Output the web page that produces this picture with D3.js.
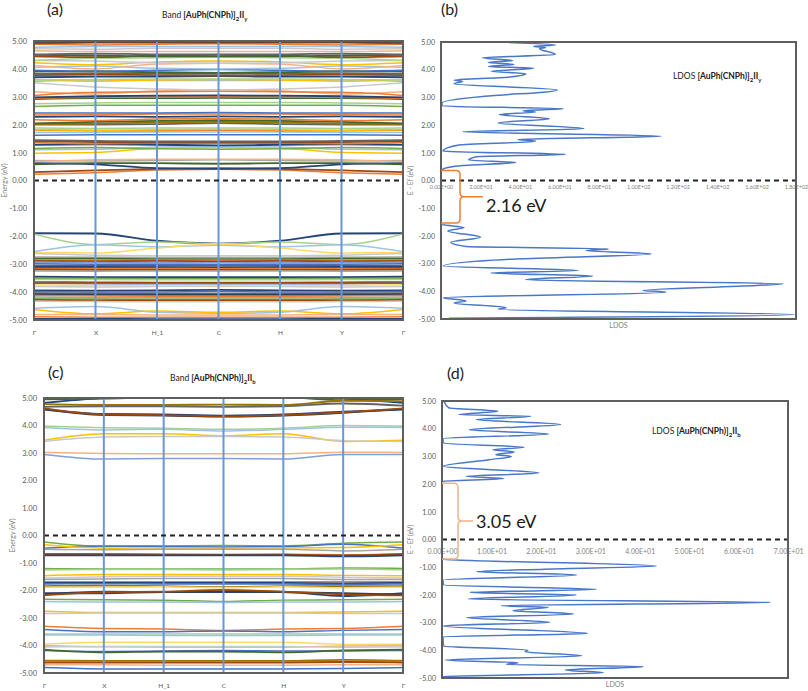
<!DOCTYPE html>
<html><head><meta charset="utf-8">
<script src="https://cdn.jsdelivr.net/npm/d3@7"></script>
<style>
body{margin:0;background:#fff}
svg{display:block}
text{font-family:Lato,"Open Sans",sans-serif}
</style>
</head><body>
<svg id="c" width="808" height="691"></svg>
<script>
// ---------------- DATA ----------------
const kLabels = ["Γ","X","H_1","C","H","Y","Γ"];
const yTicks = [5,4,3,2,1,0,-1,-2,-3,-4,-5];

// Panel (a) bands: energies at Γ, X, H_1, C, H, Y, Γ
const bandsA = [
 [0.22,0.28,0.38,0.40,0.38,0.28,0.22],
 [0.30,0.36,0.42,0.44,0.42,0.36,0.30],
 [0.62,0.58,0.44,0.42,0.44,0.58,0.62],
 [0.58,0.62,0.62,0.60,0.62,0.62,0.58],
 [0.72,0.70,0.72,0.74,0.72,0.70,0.72],
 [0.68,0.74,0.76,0.76,0.76,0.74,0.68],
 [0.98,1.00,1.16,1.18,1.16,1.00,0.98],
 [1.10,1.12,1.20,1.22,1.20,1.12,1.10],
 [1.15,1.18,1.14,1.12,1.14,1.18,1.15],
 [1.28,1.30,1.28,1.26,1.28,1.30,1.28],
 [1.35,1.32,1.34,1.34,1.34,1.32,1.35],
 [1.40,1.38,1.36,1.36,1.36,1.38,1.40],
 [1.45,1.42,1.40,1.40,1.40,1.42,1.45],
 [1.62,1.64,1.64,1.64,1.64,1.64,1.62],
 [1.72,1.72,1.74,1.74,1.74,1.72,1.72],
 [1.80,1.78,1.78,1.80,1.78,1.78,1.80],
 [1.82,1.80,1.82,1.84,1.82,1.80,1.82],
 [1.88,1.86,1.88,1.88,1.88,1.86,1.88],
 [2.00,2.00,2.02,2.06,2.02,2.00,2.00],
 [2.02,2.04,2.08,2.10,2.08,2.04,2.02],
 [2.05,2.10,2.14,2.16,2.14,2.10,2.05],
 [2.18,2.15,2.20,2.22,2.20,2.15,2.18],
 [2.28,2.30,2.28,2.30,2.28,2.30,2.28],
 [2.35,2.36,2.38,2.38,2.38,2.36,2.35],
 [2.42,2.42,2.42,2.44,2.42,2.42,2.42],
 [2.65,2.70,2.70,2.70,2.70,2.70,2.65],
 [2.75,2.78,2.80,2.80,2.80,2.78,2.75],
 [2.92,2.95,2.95,2.96,2.95,2.95,2.92],
 [2.95,2.98,3.00,3.00,3.00,2.98,2.95],
 [2.98,3.02,3.04,3.05,3.04,3.02,2.98],
 [3.18,3.10,3.22,3.25,3.22,3.10,3.18],
 [3.05,3.16,3.18,3.20,3.18,3.16,3.05],
 [3.50,3.35,3.28,3.25,3.28,3.35,3.50],
 [3.55,3.60,3.58,3.58,3.58,3.60,3.55],
 [3.62,3.56,3.60,3.62,3.60,3.56,3.62],
 [3.60,3.62,3.64,3.64,3.64,3.62,3.60],
 [3.70,3.72,3.72,3.74,3.72,3.72,3.70],
 [3.78,3.80,3.78,3.76,3.78,3.80,3.78],
 [3.82,3.85,3.84,3.82,3.84,3.85,3.82],
 [3.90,3.92,3.88,3.86,3.88,3.92,3.90],
 [3.95,3.92,3.95,3.98,3.95,3.92,3.95],
 [4.05,4.10,4.02,4.00,4.02,4.10,4.05],
 [4.12,4.00,4.18,4.20,4.18,4.00,4.12],
 [4.22,4.15,4.25,4.28,4.25,4.15,4.22],
 [4.30,4.28,4.22,4.20,4.22,4.28,4.30],
 [4.30,4.38,4.40,4.42,4.40,4.38,4.30],
 [4.45,4.42,4.48,4.50,4.48,4.42,4.45],
 [4.50,4.48,4.45,4.45,4.45,4.48,4.50],
 [4.52,4.55,4.52,4.52,4.52,4.55,4.52],
 [4.65,4.62,4.62,4.62,4.62,4.62,4.65],
 [4.72,4.70,4.74,4.74,4.74,4.70,4.72],
 [4.78,4.80,4.80,4.80,4.80,4.80,4.78],
 [4.88,4.86,4.88,4.90,4.88,4.86,4.88],
 [4.92,4.94,4.94,4.94,4.94,4.94,4.92],
 [4.97,4.98,4.98,4.98,4.98,4.98,4.97],
 [-1.89,-1.90,-2.16,-2.26,-2.16,-1.90,-1.89],
 [-1.92,-2.30,-2.20,-2.27,-2.20,-2.30,-1.92],
 [-2.55,-2.30,-2.38,-2.32,-2.38,-2.30,-2.55],
 [-2.58,-2.60,-2.42,-2.28,-2.42,-2.60,-2.58],
 [-2.62,-2.68,-2.70,-2.70,-2.70,-2.68,-2.62],
 [-2.74,-2.75,-2.76,-2.76,-2.76,-2.75,-2.74],
 [-2.80,-2.80,-2.82,-2.82,-2.82,-2.80,-2.80],
 [-2.85,-2.86,-2.85,-2.85,-2.85,-2.86,-2.85],
 [-2.88,-2.90,-2.88,-2.90,-2.88,-2.90,-2.88],
 [-2.93,-2.94,-2.95,-2.95,-2.95,-2.94,-2.93],
 [-2.98,-3.00,-3.00,-3.01,-3.00,-3.00,-2.98],
 [-3.05,-3.05,-3.06,-3.06,-3.06,-3.05,-3.05],
 [-3.10,-3.10,-3.11,-3.12,-3.11,-3.10,-3.10],
 [-3.15,-3.15,-3.15,-3.16,-3.15,-3.15,-3.15],
 [-3.19,-3.20,-3.20,-3.20,-3.20,-3.20,-3.19],
 [-3.24,-3.25,-3.24,-3.24,-3.24,-3.25,-3.24],
 [-3.45,-3.46,-3.46,-3.46,-3.46,-3.46,-3.45],
 [-3.50,-3.51,-3.52,-3.52,-3.52,-3.51,-3.50],
 [-3.55,-3.55,-3.56,-3.56,-3.56,-3.55,-3.55],
 [-3.64,-3.65,-3.66,-3.66,-3.66,-3.65,-3.64],
 [-3.68,-3.70,-3.70,-3.70,-3.70,-3.70,-3.68],
 [-3.74,-3.76,-3.78,-3.80,-3.78,-3.76,-3.74],
 [-3.80,-3.82,-3.80,-3.78,-3.80,-3.82,-3.80],
 [-3.94,-3.95,-3.94,-3.92,-3.94,-3.95,-3.94],
 [-3.98,-4.00,-4.00,-3.98,-4.00,-4.00,-3.98],
 [-4.04,-4.05,-4.06,-4.06,-4.06,-4.05,-4.04],
 [-4.08,-4.10,-4.10,-4.10,-4.10,-4.10,-4.08],
 [-4.12,-4.14,-4.15,-4.15,-4.15,-4.14,-4.12],
 [-4.18,-4.20,-4.20,-4.20,-4.20,-4.20,-4.18],
 [-4.24,-4.25,-4.26,-4.26,-4.26,-4.25,-4.24],
 [-4.28,-4.30,-4.30,-4.30,-4.30,-4.30,-4.28],
 [-4.33,-4.34,-4.35,-4.35,-4.35,-4.34,-4.33],
 [-4.58,-4.52,-4.72,-4.76,-4.72,-4.52,-4.58],
 [-4.62,-4.78,-4.68,-4.72,-4.68,-4.78,-4.62],
 [-4.80,-4.80,-4.82,-4.82,-4.82,-4.80,-4.80],
 [-4.88,-4.90,-4.90,-4.90,-4.90,-4.90,-4.88],
 [-4.96,-4.96,-4.97,-4.97,-4.97,-4.96,-4.96]
];
const colorsA = [1,7,6,11,2,13,3,16,5,6,1,7,8,0,16,1,3,17,8,9,11,1,6,1,0,5,17,11,1,6,13,1,14,16,3,17,6,7,8,11,0,16,13,3,14,17,7,11,8,13,14,16,1,7,18,
 6,17,16,15,14,2,11,1,7,12,0,8,6,1,7,2,6,5,17,7,0,15,14,6,0,8,18,1,2,5,7,14,16,3,13,1,6];

// Panel (c) bands
const bandsC = [
 [4.82,5.00,5.05,5.05,5.05,4.98,4.82],
 [4.95,4.98,5.02,5.02,5.02,4.92,4.95],
 [4.58,4.42,4.40,4.36,4.40,4.50,4.58],
 [4.78,4.75,4.75,4.76,4.75,4.90,4.88],
 [4.68,4.70,4.70,4.68,4.70,4.80,4.72],
 [4.60,4.38,4.36,4.32,4.36,4.46,4.60],
 [4.62,4.40,4.38,4.33,4.38,4.48,4.62],
 [3.98,3.92,3.90,3.86,3.90,4.00,3.98],
 [3.93,3.84,3.86,3.80,3.86,3.94,3.93],
 [3.46,3.70,3.70,3.62,3.70,3.42,3.46],
 [3.42,3.58,3.60,3.60,3.58,3.45,3.42],
 [3.02,2.98,2.97,2.97,2.97,3.03,3.02],
 [2.95,2.78,2.80,2.80,2.78,2.95,2.95],
 [-0.24,-0.40,-0.38,-0.36,-0.38,-0.28,-0.24],
 [-0.46,-0.38,-0.40,-0.42,-0.40,-0.32,-0.46],
 [-0.34,-0.46,-0.45,-0.46,-0.45,-0.44,-0.34],
 [-0.50,-0.52,-0.50,-0.50,-0.50,-0.56,-0.50],
 [-0.66,-0.67,-0.68,-0.70,-0.68,-0.70,-0.66],
 [-0.68,-0.68,-0.70,-0.70,-0.70,-0.72,-0.68],
 [-0.72,-0.72,-0.72,-0.72,-0.72,-0.76,-0.72],
 [-1.20,-1.22,-1.22,-1.22,-1.22,-1.18,-1.20],
 [-1.25,-1.24,-1.24,-1.25,-1.24,-1.22,-1.25],
 [-1.46,-1.42,-1.42,-1.42,-1.42,-1.45,-1.46],
 [-1.55,-1.50,-1.48,-1.48,-1.48,-1.52,-1.55],
 [-1.60,-1.58,-1.56,-1.56,-1.56,-1.60,-1.60],
 [-1.68,-1.68,-1.68,-1.68,-1.68,-1.68,-1.68],
 [-1.72,-1.72,-1.72,-1.72,-1.72,-1.74,-1.72],
 [-1.76,-1.75,-1.76,-1.76,-1.76,-1.78,-1.76],
 [-1.84,-1.82,-1.84,-1.88,-1.84,-1.84,-1.84],
 [-1.88,-1.88,-1.86,-1.90,-1.86,-1.90,-1.88],
 [-2.10,-2.10,-2.06,-2.06,-2.06,-2.20,-2.10],
 [-2.14,-2.04,-2.06,-2.02,-2.06,-2.10,-2.14],
 [-2.18,-2.06,-2.04,-1.98,-2.04,-2.14,-2.18],
 [-2.32,-2.34,-2.35,-2.40,-2.35,-2.34,-2.32],
 [-2.40,-2.42,-2.42,-2.44,-2.42,-2.42,-2.40],
 [-2.75,-2.80,-2.80,-2.80,-2.80,-2.78,-2.75],
 [-2.84,-2.82,-2.82,-2.82,-2.82,-2.84,-2.84],
 [-3.30,-3.38,-3.40,-3.45,-3.40,-3.38,-3.30],
 [-3.42,-3.50,-3.50,-3.47,-3.50,-3.45,-3.42],
 [-3.58,-3.58,-3.58,-3.58,-3.58,-3.58,-3.58],
 [-3.62,-3.62,-3.64,-3.64,-3.64,-3.62,-3.62],
 [-3.95,-3.88,-3.88,-3.88,-3.88,-3.96,-3.95],
 [-4.00,-4.05,-4.06,-4.06,-4.06,-4.02,-4.00],
 [-4.05,-4.04,-4.04,-4.04,-4.04,-4.06,-4.05],
 [-4.18,-4.22,-4.20,-4.18,-4.20,-4.20,-4.18],
 [-4.15,-4.25,-4.22,-4.22,-4.25,-4.18,-4.15],
 [-4.55,-4.56,-4.56,-4.56,-4.56,-4.52,-4.55],
 [-4.58,-4.60,-4.60,-4.60,-4.60,-4.58,-4.58],
 [-4.62,-4.62,-4.62,-4.62,-4.62,-4.60,-4.62],
 [-4.70,-4.70,-4.72,-4.72,-4.72,-4.70,-4.70],
 [-4.80,-4.85,-4.85,-4.85,-4.85,-4.84,-4.80]
];
const colorsC = [6,11,6,9,8,18,7,17,16,3,14,13,12,
 5,0,3,2,1,7,6,5,17,3,14,2,1,6,0,9,15,6,18,7,5,16,3,14,1,0,17,16,15,13,14,0,11,9,1,7,13,0];

// Panel (b) LDOS: [energy (eV), LDOS]
const ldosB = [
 [4.98,34.5],[4.89,58],[4.84,47],[4.80,53],[4.76,50],[4.55,58],[4.43,21],[4.33,36.5],[4.26,24],[4.19,37],
 [4.12,24],[4.05,47],[3.94,25.5],[3.85,43],[3.73,34],[3.63,6.6],[3.58,11],[3.49,6.6],[3.27,59],[3.19,52],
 [3.08,29],[2.80,0.5],[2.69,0.5],[2.59,62],[2.52,41.5],[2.47,48],[2.38,29.5],[2.23,55],[2.08,29],[1.87,72.5],
 [1.76,11],[1.60,111.5],[1.48,39],[1.42,48],[1.28,9],[1.06,1],[0.94,63],[0.86,18],[0.74,14],[0.65,38],
 [0.54,11],[0.41,1],[0.30,0],[-1.50,0],[-1.58,0],[-1.70,11.7],[-1.82,3.5],[-2.05,20],[-2.23,5],[-2.38,12.7],
 [-2.47,85],[-2.53,73.5],[-2.65,106.5],[-2.83,38],[-3.09,1],[-3.25,69.5],[-3.34,25.4],[-3.45,77],[-3.58,43],
 [-3.73,173.5],[-3.79,160],[-3.97,102.5],[-4.03,114],[-4.23,1],[-4.35,12.7],[-4.42,6.6],[-4.59,33],[-4.65,29],
 [-4.84,179],[-4.97,4]
];
const ticksB = [0,20,40,60,80,100,120,140,160,180];
const tickLabelsB = ["0.00E+00","2.00E+01","4.00E+01","6.00E+01","8.00E+01","1.00E+02","1.20E+02","1.40E+02","1.60E+02","1.80E+02"];

// Panel (d) LDOS
const ldosD = [
 [4.99,0.4],[4.75,1.4],[4.63,11.3],[4.51,3.4],[4.45,18],[4.33,6.9],[4.15,24],[3.96,5.5],[3.81,21.6],[3.64,0.2],
 [3.48,0.2],[3.33,16.6],[3.24,10.3],[3.16,14.6],[3.06,10.9],[3.00,14],[2.88,9.5],[2.64,0.2],[2.40,19.6],[2.28,4.9],
 [2.20,12.5],[2.10,0.2],[2.0,0],[-0.65,0],[-0.71,0.3],[-0.96,43.4],[-1.07,20.8],[-1.16,7],[-1.28,27.2],[-1.46,0.2],
 [-1.64,0.3],[-1.80,31.3],[-1.91,5.7],[-2.00,27.2],[-2.15,5.3],[-2.27,66.4],[-2.39,12],[-2.45,21.5],[-2.57,14.4],
 [-2.69,26.6],[-2.82,5],[-2.99,21.9],[-3.12,0.2],[-3.39,29.4],[-3.51,0.2],[-3.85,0.3],[-3.99,17.4],[-4.05,16.8],
 [-4.20,28.3],[-4.35,0.6],[-4.45,15.4],[-4.51,13.1],[-4.59,40.7],[-4.71,24.9],[-4.81,32.6],[-4.95,0.2],[-5.0,0]
];
const ticksD = [0,10,20,30,40,50,60,70];
const tickLabelsD = ["0.00E+00","1.00E+01","2.00E+01","3.00E+01","4.00E+01","5.00E+01","6.00E+01","7.00E+01"];

// Band gaps [top, bottom] energies and labels
const gapB = [0.36, -1.53]; const gapLabelB = "2.16 eV";
const gapD = [2.03, -0.70]; const gapLabelD = "3.05 eV";

// ---------------- DRAWING ----------------
const palette = ["#4472C4","#ED7D31","#A5A5A5","#FFC000","#5B9BD5","#70AD47",
 "#264478","#9E480E","#636363","#997300","#255E91","#43682B",
 "#7E9FD8","#F4B183","#C9C9C9","#FFD966","#9DC3E6","#A9D18E","#333F50"];
const svg = d3.select("#c");
const txtCol = "#595959";

function formulaTitle(g, x, y, prefix, subEnd, size){
  const t = g.append("text").attr("x",x).attr("y",y).attr("font-size",size).attr("fill","#222");
  if(prefix) t.append("tspan").text(prefix).attr("font-weight","normal");
  t.append("tspan").text("[AuPh(CNPh)]").attr("font-weight","bold");
  t.append("tspan").text("2").attr("font-weight","bold").attr("font-size",size*0.7).attr("dy",size*0.3);
  t.append("tspan").text("II").attr("font-weight","bold").attr("dy",-size*0.3);
  t.append("tspan").text(subEnd).attr("font-weight","bold").attr("font-size",size*0.7).attr("dy",size*0.3);
}

function yAxisLabels(g, y, xPos, fs){
  const ax = d3.axisLeft(y).tickValues(yTicks).tickFormat(d=>d.toFixed(2)).tickSize(0).tickPadding(0);
  const a = g.append("g").attr("transform",`translate(${xPos},0)`).call(ax);
  a.select(".domain").remove();
  a.selectAll("text").attr("fill",txtCol).attr("font-size",fs).attr("font-family","Lato,sans-serif");
}

function bandPanel(box, bands, colors, id){
  const g = svg.append("g");
  const x = d3.scaleLinear().domain([0,6]).range([box.l,box.r]);
  const y = d3.scaleLinear().domain([-5,5]).range([box.b,box.t]);
  g.append("clipPath").attr("id",id).append("rect")
    .attr("x",box.l).attr("y",box.t).attr("width",box.r-box.l).attr("height",box.b-box.t);
  const line = d3.line().x((d,i)=>x(i)).y(d=>y(d)).curve(d3.curveMonotoneX);
  const bg = g.append("g").attr("clip-path",`url(#${id})`);
  bands.forEach((b,i)=>{
    const c = palette[colors[i]];
    bg.append("path").attr("d",line(b)).attr("fill","none").attr("stroke",c)
      .attr("stroke-width",[6,7,8,9,11,18].includes(colors[i])?1.8:1.5);
  });
  kLabels.forEach((k,i)=>{
    g.append("line").attr("x1",x(i)).attr("x2",x(i)).attr("y1",box.t).attr("y2",box.b)
      .attr("stroke","#6A96D8").attr("stroke-width",2);
  });
  g.append("line").attr("x1",box.l).attr("x2",box.r).attr("y1",y(0)).attr("y2",y(0))
    .attr("stroke","#222").attr("stroke-width",2).attr("stroke-dasharray","5,4");
  g.append("rect").attr("x",box.l).attr("y",box.t).attr("width",box.r-box.l).attr("height",box.b-box.t)
    .attr("fill","none").attr("stroke","#5f5f5f").attr("stroke-width",2);
  yAxisLabels(g, y, box.l-7, 7.5);
  const xa = d3.axisBottom(x).tickValues(d3.range(7)).tickFormat(i=>kLabels[i]).tickSize(0).tickPadding(0);
  const a = g.append("g").attr("transform",`translate(0,${box.b+10})`).call(xa);
  a.select(".domain").remove();
  a.selectAll("text").attr("fill",txtCol).attr("font-size",6.5).attr("font-family","Lato,sans-serif");
  g.append("text").attr("transform",`translate(${box.yt},${(box.t+box.b)/2}) rotate(-90)`)
    .attr("text-anchor","middle").attr("font-size",7).attr("fill","#7f7f7f").text("Energy (eV)");
  return g;
}

function ldosPanel(box, data, xmax, ticks, tickLabels, gap, gapLabel, brace, bColor){
  const g = svg.append("g");
  const x = d3.scaleLinear().domain([0,xmax]).range([box.l,box.r]);
  const y = d3.scaleLinear().domain([-5,5]).range([box.b,box.t]);
  const line = d3.line().x(d=>x(d[1])).y(d=>y(d[0])).curve(d3.curveMonotoneY);
  g.append("path").attr("d",line(data)).attr("fill","none").attr("stroke","#4A78C8").attr("stroke-width",1.5);
  g.append("line").attr("x1",box.l).attr("x2",box.r).attr("y1",y(0)).attr("y2",y(0))
    .attr("stroke","#222").attr("stroke-width",2).attr("stroke-dasharray","5,4");
  const xa = d3.axisBottom(x).tickValues(ticks).tickFormat((d,i)=>tickLabels[i]).tickSize(0).tickPadding(0);
  const a = g.append("g").attr("transform",`translate(0,${y(0)+box.tp})`).call(xa);
  a.select(".domain").remove();
  a.selectAll("text").attr("fill","#7f7f7f").attr("font-size",box.tf).attr("font-family","Lato,sans-serif");
  g.append("rect").attr("x",box.l).attr("y",box.t).attr("width",box.r-box.l).attr("height",box.b-box.t)
    .attr("fill","none").attr("stroke","#5f5f5f").attr("stroke-width",2);
  yAxisLabels(g, y, box.l-6, 7);
  g.append("text").attr("transform",`translate(413,${y(0)}) rotate(-90)`)
    .attr("text-anchor","middle").attr("font-size",7).attr("fill","#7f7f7f").text("E - Ef (eV)");
  g.append("text").attr("x",(box.l+box.r)/2).attr("y",box.b+9).attr("text-anchor","middle")
    .attr("font-size",7).attr("fill","#7f7f7f").text("LDOS");
  // brace
  const y0 = y(gap[0]), y1 = y(gap[1]), ym = (y0+y1)/2;
  const x0 = box.l, x1 = box.l + brace[0], xt = box.l + brace[1], r = 4;
  const p = `M${x0},${y0} L${x1-r},${y0} Q${x1},${y0} ${x1},${y0+r} L${x1},${ym-r} Q${x1},${ym} ${x1+r},${ym} L${xt},${ym}
     M${x1+r},${ym} Q${x1},${ym} ${x1},${ym+r} L${x1},${y1-r} Q${x1},${y1} ${x1-r},${y1} L${x0},${y1}`;
  g.append("path").attr("d",p).attr("fill","none").attr("stroke",bColor).attr("stroke-width",1.5);
  g.append("text").attr("x",xt+3).attr("y",ym+box.lo).attr("font-size",18)
    .attr("font-family","'Liberation Sans',Arial,sans-serif").attr("fill","#1a1a1a").text(gapLabel);
  return g;
}

// Panel (a)
bandPanel({l:34,r:403,t:41,b:320,yt:7}, bandsA, colorsA, "clipA");
svg.append("text").attr("x",47).attr("y",15).attr("font-size",16).attr("fill","#222").text("(a)");
formulaTitle(svg, 162, 18, "Band  ", "y", 8.5);

// Panel (b)
ldosPanel({l:441,r:796,t:42,b:319,tp:5,tf:5.5,lo:15}, ldosB, 180, ticksB, tickLabelsB, gapB, gapLabelB, [19,42], "#ED7D31");
svg.append("text").attr("x",441).attr("y",15).attr("font-size",16).attr("fill","#222").text("(b)");
formulaTitle(svg, 673, 79, "LDOS ", "y", 8.5);

// Panel (c)
bandPanel({l:44,r:403,t:398,b:673,yt:15}, bandsC, colorsC, "clipC");
svg.append("text").attr("x",48).attr("y",378).attr("font-size",16).attr("fill","#222").text("(c)");
formulaTitle(svg, 170, 381, "Band  ", "b", 8.5);

// Panel (d)
ldosPanel({l:442,r:788,t:401,b:678,tp:10,tf:7,lo:6.5}, ldosD, 70, ticksD, tickLabelsD, gapD, gapLabelD, [16,31], "#F4B183");
svg.append("text").attr("x",447).attr("y",379).attr("font-size",16).attr("fill","#222").text("(d)");
formulaTitle(svg, 652, 434, "LDOS ", "b", 8.5);
</script>
</body></html>
